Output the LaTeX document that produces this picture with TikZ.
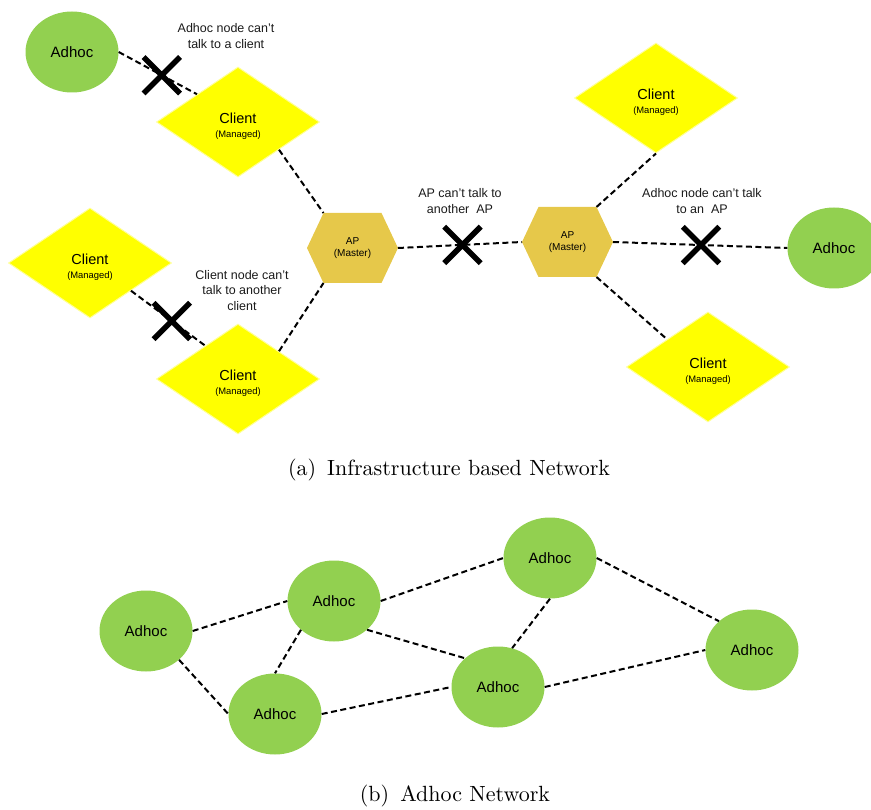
\documentclass[tikz,border=0pt]{standalone}
\usepackage{fontspec}
\newfontfamily\arial{Liberation Sans}
\newfontfamily\capfont{lmroman10-regular.otf}
\usetikzlibrary{shapes.geometric,shapes.misc,calc}
\definecolor{adhocgreen}{HTML}{92D050}
\definecolor{clientyellow}{HTML}{FFFF00}
\definecolor{clientedge}{HTML}{FFFF99}
\definecolor{apgold}{HTML}{E6C84A}
\definecolor{notetext}{HTML}{1A1A1A}
\tikzset{
  link/.style={draw=black, line width=2pt, dash pattern=on 6pt off 3.5pt},
  adhoc/.style={ellipse, fill=adhocgreen, minimum width=93pt, minimum height=81pt,
    inner sep=0pt, font=\arial\fontsize{15}{18}\selectfont},
  client/.style={diamond, fill=clientyellow, draw=clientedge, line width=1pt,
    minimum width=163pt, minimum height=110pt, inner sep=0pt, align=center,
    font=\arial\fontsize{9.4}{14}\selectfont},
  aptext/.style={align=center, inner sep=0pt, font=\arial\fontsize{10}{12}\selectfont},
  nogo/.style={cross out, draw=black, line width=5.5pt, minimum width=31pt,
    minimum height=31pt, inner sep=0pt},
  note/.style={align=center, inner sep=0pt, text=notetext,
    font=\arial\fontsize{12.5}{15.5}\selectfont},
  captiontext/.style={inner sep=0pt, font=\capfont\fontsize{22}{26}\selectfont},
}
\newcommand\aphex[3]{%
  \coordinate (#1-w)  at (#2-45.5,#3);
  \coordinate (#1-nw) at (#2-29,#3-35);
  \coordinate (#1-ne) at (#2+29,#3-35);
  \coordinate (#1-e)  at (#2+45.5,#3);
  \coordinate (#1-se) at (#2+29,#3+35);
  \coordinate (#1-sw) at (#2-29,#3+35);
  \fill[apgold] (#1-w) -- (#1-nw) -- (#1-ne) -- (#1-e) -- (#1-se) -- (#1-sw) -- cycle;
  \node[aptext] (#1) at (#2,#3) {AP\\(Master)};
}
\newcommand\clienttext{{\fontsize{14.5}{14}\selectfont\rule{0pt}{18.5pt}Client}\\(Managed)}
\begin{document}
\begin{tikzpicture}[x=1pt,y=-1pt]
\useasboundingbox (0,0) rectangle (871,810);

% ---------- (a) infrastructure ----------
\aphex{ap1}{352.5}{248}
\aphex{ap2}{567.5}{242}

\node[adhoc] (a1) at (72,52) {Adhoc};
\node[adhoc] (a2) at (834,248) {Adhoc};
\node[client] (c1) at (238,122) {\clienttext};
\node[client] (c2) at (90,263) {\clienttext};
\node[client] (c3) at (238,379) {\clienttext};
\node[client] (c4) at (656,98) {\clienttext};
\node[client] (c5) at (708,367) {\clienttext};

\draw[link] (a1.east) -- (c1.north west) node[nogo, pos=0.55, solid] (x1) {};
\draw[link] (c1.south east) -- (ap1-nw);
\draw[link] (c2.south east) -- ($(c3.west)!0.6!(c3.north)$) node[nogo, pos=0.55, solid] (x3) {};
\draw[link] (c3.north east) -- (ap1-sw);
\draw[link] (ap1-e) -- (ap2-w) node[nogo, pos=0.52, solid] (x2) {};
\draw[link] (ap2-ne) -- (c4.south);
\draw[link] (ap2-e) -- (a2.west) node[nogo, pos=0.505, solid] (x4) {};
\draw[link] (ap2-se) -- (c5.north west);

\node[note] (n1) at (226,36) {Adhoc node can’t\\talk to a client};
\node[note] (n2) at (460,201) {AP can’t talk to\\another~~AP};
\node[note] (n3) at (242,290.5) {Client node can’t\\talk to another\\client};
\node[note] (n4) at (702,201) {Adhoc node can’t talk\\to an~~AP};

\node[captiontext] (capa) at (449,470) {(a)\enspace Infrastructure based Network};

% ---------- (b) adhoc ----------
\node[adhoc] (b1) at (146,631) {Adhoc};
\node[adhoc] (b2) at (334,601) {Adhoc};
\node[adhoc] (b3) at (550,558) {Adhoc};
\node[adhoc] (b4) at (752,650) {Adhoc};
\node[adhoc] (b5) at (498,687) {Adhoc};
\node[adhoc] (b6) at (275,714) {Adhoc};

\draw[link] (b1.east) -- (b2.west);
\draw[link] (b1.south east) -- (b6.west);
\draw[link] (b2.south west) -- (b6.north);
\draw[link] (b2.east) -- (b3.west);
\draw[link] (b2.south east) -- (b5.north west);
\draw[link] (b3.south) -- (b5.70);
\draw[link] (b3.east) -- (b4.north west);
\draw[link] (b5.east) -- (b4.west);
\draw[link] (b6.east) -- (b5.west);

\node[captiontext] (capb) at (455,796) {(b)\enspace Adhoc Network};
\end{tikzpicture}
\end{document}
